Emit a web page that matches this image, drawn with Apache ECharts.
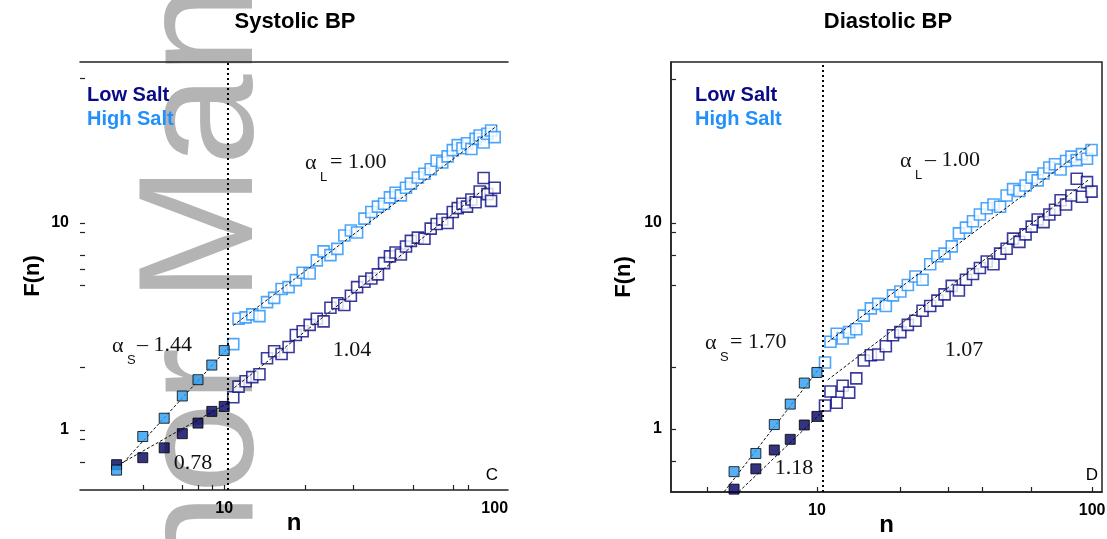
<!DOCTYPE html>
<html lang="en">
<head>
<meta charset="UTF-8">
<title>Systolic / Diastolic BP - F(n)</title>
<script src="https://cdn.jsdelivr.net/npm/echarts@6/dist/echarts.min.js"></script>
<style>
    html, body { margin: 0; padding: 0; background: #fff; }
    #chart { width: 1107px; height: 539px; }
</style>
</head>
<body>
<div id="chart"></div>
<script type="text/javascript">
    // ---- data ----
    // short range box sizes (filled squares)
    var sysShortN = [4, 5, 6, 7, 8, 9, 10];
    var sysShortLow = [0.68, 0.735, 0.82, 0.96, 1.08, 1.23, 1.30];
    var sysShortHigh = [0.64, 0.93, 1.14, 1.46, 1.75, 2.06, 2.42];

    var diaShortN = [5, 6, 7, 8, 9, 10];
    var diaShortLow = [0.51, 0.64, 0.79, 0.89, 1.045, 1.15];
    var diaShortHigh = [0.62, 0.76, 1.05, 1.32, 1.67, 1.88];

    // long range box sizes (open squares)
    var sysN = [10.8, 11.3, 12, 12.7, 13.5, 14.4, 15.3, 16.3, 17.3, 18.4, 19.5, 20.7, 22, 23.3, 24.7,
        26.2, 27.8, 29.4, 31, 33, 35, 37, 39, 41, 43, 45, 47, 49, 52, 55, 58, 61, 64, 67, 70,
        73, 76, 79, 82, 85, 88, 91, 94, 97, 100];
    var sysLow = [1.44, 1.62, 1.72, 1.80, 1.86, 2.22, 2.40, 2.33, 2.52, 2.88, 3.00, 3.22, 3.45, 3.35, 3.90,
        4.10, 4.02, 4.45, 4.90, 5.20, 5.40, 5.65, 6.40, 6.90, 7.20, 7.05, 7.70, 8.20, 8.50, 8.40, 9.40, 9.90, 10.4, 10.0, 11.3,
        11.8, 12.4, 12.0, 13.0, 12.6, 14.2, 16.5, 13.8, 12.8, 14.8];
    var sysHigh = [2.60, 3.45, 3.50, 3.62, 3.55, 4.15, 4.35, 4.80, 4.90, 5.30, 5.75, 5.70, 6.60, 7.30, 7.00,
        7.50, 8.70, 9.20, 9.00, 10.5, 11.3, 12.0, 12.4, 13.3, 14.0, 13.6, 14.8, 15.5, 16.6, 17.3, 18.2, 20.0, 19.6, 21.0, 22.5,
        23.8, 23.0, 24.3, 22.8, 25.5, 26.5, 24.5, 27.0, 28.0, 26.0];

    var diaN = [10.7, 11.2, 11.8, 12.4, 13.1, 13.9, 14.8, 15.7, 16.7, 17.8, 18.9, 20.1, 21.4, 22.8, 24.2,
        25.8, 27.4, 29.1, 30.9, 32.8, 34.8, 36.9, 39.1, 41.4, 43.8, 46.3, 48.9, 51.6, 54.4, 57.3,
        60.3, 63.4, 66.6, 69.9, 73.3, 76.8, 80.4, 84.1, 87.9, 91.8, 95.8, 99.5];
    var diaLow = [1.30, 1.52, 1.34, 1.62, 1.50, 1.76, 2.15, 2.28, 2.30, 2.52, 2.85, 2.95, 3.20, 3.35, 3.75,
        3.95, 4.20, 4.50, 4.95, 4.70, 5.30, 5.65, 6.05, 6.50, 6.30, 7.10, 7.50, 8.40, 8.10, 8.80,
        9.60, 10.4, 10.1, 11.0, 11.6, 12.9, 12.3, 13.6, 16.4, 13.4, 15.8, 14.2];
    var diaHigh = [2.10, 2.65, 2.90, 2.75, 2.95, 3.05, 3.55, 3.85, 4.05, 3.95, 4.45, 4.65, 5.00, 5.50, 5.30,
        6.30, 6.90, 7.10, 7.70, 8.90, 9.50, 10.2, 11.0, 11.8, 12.3, 12.0, 13.6, 14.6, 14.3, 15.2,
        16.6, 16.1, 17.4, 18.6, 19.3, 18.2, 20.0, 21.0, 20.2, 21.6, 20.5, 22.6];

    // fitted lines (end points)
    var sysShortLowFit = [[4, 0.67], [10.4, 1.36]];
    var sysShortHighFit = [[4, 0.64], [10.4, 2.52]];
    var sysLongLowFit = [[10.9, 1.6], [95, 15.2]];
    var sysLongHighFit = [[10.8, 3.2], [102, 29.5]];
    var diaShortLowFit = [[5.2, 0.495], [10.4, 1.2]];
    var diaShortHighFit = [[4.6, 0.495], [10.3, 2.0]];
    var diaLongLowFit = [[10.95, 1.73], [97, 16.2]];
    var diaLongHighFit = [[10.95, 2.64], [98, 23.9]];

    // crossover box size (dotted line)
    var sysCross = 10.35;
    var diaCross = 10.5;

    // ticks
    var sysXTicks = [5, 7, 8, 9, 10, 20, 30, 50, 70, 80];
    var sysYTicks = [0.7, 0.9, 1, 2, 5, 6, 7, 9, 10, 50];
    var diaXTicks = [4, 10, 20, 30, 40, 60, 100];
    var diaYTicks = [0.7, 1, 2, 5, 7, 9, 10, 50];
    var xLabels = [10, 100];
    var yLabels = [1, 10];

    var LOW = '#0a0a85';
    var LOW_FILL = '#00005e';
    var HIGH = '#2290fa';
    var HIGH_FILL = '#2a9cf2';
    var AXIS = '#222';
    var SANS = 'Liberation Sans, Arial, sans-serif';
    var SERIF = 'Liberation Serif, Times New Roman, serif';

    function pairs(xs, ys) {
        return xs.map(function (x, i) { return [x, ys[i]]; });
    }

    function openSquares(name, xs, ys, color, xi, yi) {
        return {
            name: name, type: 'scatter', xAxisIndex: xi, yAxisIndex: yi,
            data: pairs(xs, ys), symbol: 'rect', symbolSize: 11,
            itemStyle: { color: '#fff', borderColor: color, borderWidth: 1.6 },
            z: 3
        };
    }

    function filledSquares(name, xs, ys, color, xi, yi) {
        return {
            name: name, type: 'scatter', xAxisIndex: xi, yAxisIndex: yi,
            data: pairs(xs, ys), symbol: 'rect', symbolSize: 10,
            itemStyle: { color: color, borderColor: '#000', borderWidth: 1 },
            z: 6
        };
    }

    function fit(data, xi, yi) {
        return {
            type: 'line', xAxisIndex: xi, yAxisIndex: yi, data: data,
            symbol: 'none', silent: true,
            lineStyle: { color: '#111', width: 1, type: [3, 2] },
            z: 5
        };
    }

    function divider(xi, yi, at) {
        return {
            type: 'line', xAxisIndex: xi, yAxisIndex: yi, data: [],
            markLine: {
                silent: true, symbol: ['none', 'none'],
                label: { show: false },
                lineStyle: { color: '#000', width: 2, type: [2, 3] },
                data: [{ xAxis: at }]
            },
            z: 4
        };
    }

    function xAxisFor(grid, min, max, ticks) {
        return {
            gridIndex: grid, type: 'log', min: min, max: max,
            name: 'n', nameLocation: 'middle', nameGap: 21, nameMoveOverlap: false,
            nameTextStyle: { fontFamily: SANS, fontWeight: 'bold', fontSize: 24, color: '#000' },
            axisLine: { show: true, lineStyle: { color: AXIS, width: 1.5 } },
            axisTick: { show: true, inside: true, length: 5, customValues: ticks,
                lineStyle: { color: AXIS, width: 1.2 } },
            axisLabel: { customValues: xLabels, margin: 11, fontFamily: SANS, fontWeight: 'bold',
                fontSize: 16, color: '#000' },
            splitLine: { show: false },
            minorTick: { show: false }
        };
    }

    function yAxisFor(grid, min, max, ticks, line, margin) {
        return {
            gridIndex: grid, type: 'log', min: min, max: max,
            name: 'F(n)', nameLocation: 'middle', nameGap: 36,
            nameTextStyle: { fontFamily: SANS, fontWeight: 'bold', fontSize: 22, color: '#000' },
            axisLine: { show: line, lineStyle: { color: AXIS, width: 1.5 } },
            axisTick: { show: true, inside: true, length: 5, customValues: ticks,
                lineStyle: { color: AXIS, width: 1.2 } },
            axisLabel: { customValues: yLabels, margin: margin, fontFamily: SANS, fontWeight: 'bold',
                fontSize: 16, color: '#000' },
            splitLine: { show: false },
            minorTick: { show: false }
        };
    }

    // text helpers for the annotations
    function txt(x, y, s, font, size, opts) {
        opts = opts || {};
        return {
            type: 'text', x: x, y: y, z: 20,
            style: {
                text: s, fontFamily: font, fontSize: size,
                fontWeight: opts.bold ? 'bold' : 'normal',
                fill: opts.color || '#111',
                align: opts.align || 'left', verticalAlign: 'middle'
            }
        };
    }

    function alpha(x, y, sub, rest) {
        return [
            txt(x, y, 'α', SERIF, 22),
            txt(x + 15, y + 14, sub, SANS, 13),
            txt(x + 25, y - 1, rest, SERIF, 22)
        ];
    }

    var chart = echarts.init(document.getElementById('chart'));

    var graphics = [
        // faint "Author Manuscript" stamp behind the left panel
        {
            type: 'text', x: 207, y: 831, rotation: Math.PI / 2, z: -1, silent: true,
            style: { text: 'Author Manuscript', fontFamily: SANS, fontSize: 164,
                fill: '#b4b4b4', align: 'left', verticalAlign: 'middle' }
        },
        txt(295, 22, 'Systolic BP', SANS, 22, { bold: true, align: 'center', color: '#000' }),
        txt(888, 22, 'Diastolic BP', SANS, 22, { bold: true, align: 'center', color: '#000' }),
        txt(87, 95, 'Low Salt', SANS, 20, { bold: true, color: LOW }),
        txt(87, 119, 'High Salt', SANS, 20, { bold: true, color: HIGH }),
        txt(695, 95, 'Low Salt', SANS, 20, { bold: true, color: LOW }),
        txt(695, 119, 'High Salt', SANS, 20, { bold: true, color: HIGH }),
        txt(352, 350, '1.04', SERIF, 22, { align: 'center' }),
        txt(193, 463, '0.78', SERIF, 22, { align: 'center' }),
        txt(964, 350, '1.07', SERIF, 22, { align: 'center' }),
        txt(794, 468, '1.18', SERIF, 22, { align: 'center' }),
        txt(492, 475, 'C', SANS, 17, { align: 'center', color: '#000' }),
        txt(1092, 475, 'D', SANS, 17, { align: 'center', color: '#000' })
    ].concat(
        alpha(112, 346, 'S', '– 1.44'),
        alpha(305, 163, 'L', '= 1.00'),
        alpha(705, 343, 'S', '= 1.70'),
        alpha(900, 161, 'L', '– 1.00')
    );

    var option = {
        animation: false,
        backgroundColor: '#fff',
        grid: [
            { left: 80, top: 62, width: 428, height: 428, outerBoundsMode: 'none' },
            { left: 671, top: 62, width: 431, height: 430, outerBoundsMode: 'none', show: true,
                borderColor: AXIS, borderWidth: 1.5, backgroundColor: 'transparent' }
        ],
        xAxis: [
            xAxisFor(0, 2.93, 112, sysXTicks),
            {
                gridIndex: 0, type: 'log', min: 2.93, max: 112, position: 'top',
                axisLine: { show: true, lineStyle: { color: AXIS, width: 1.5 } },
                axisTick: { show: false }, axisLabel: { show: false }, splitLine: { show: false }
            },
            xAxisFor(1, 2.95, 108.6, diaXTicks)
        ],
        yAxis: [
            yAxisFor(0, 0.513, 60, sysYTicks, false, 11),
            yAxisFor(1, 0.494, 60.5, diaYTicks, true, 9)
        ],
        graphic: { elements: graphics },
        series: [
            // systolic
            openSquares('Low Salt', sysN, sysLow, LOW, 0, 0),
            openSquares('High Salt', sysN, sysHigh, HIGH, 0, 0),
            fit(sysLongLowFit, 0, 0),
            fit(sysLongHighFit, 0, 0),
            fit(sysShortLowFit, 0, 0),
            fit(sysShortHighFit, 0, 0),
            filledSquares('Low Salt', sysShortN, sysShortLow, LOW_FILL, 0, 0),
            filledSquares('High Salt', sysShortN, sysShortHigh, HIGH_FILL, 0, 0),
            divider(0, 0, sysCross),
            // diastolic
            openSquares('Low Salt', diaN, diaLow, LOW, 2, 1),
            openSquares('High Salt', diaN, diaHigh, HIGH, 2, 1),
            fit(diaLongLowFit, 2, 1),
            fit(diaLongHighFit, 2, 1),
            fit(diaShortLowFit, 2, 1),
            fit(diaShortHighFit, 2, 1),
            filledSquares('Low Salt', diaShortN, diaShortLow, LOW_FILL, 2, 1),
            filledSquares('High Salt', diaShortN, diaShortHigh, HIGH_FILL, 2, 1),
            divider(2, 1, diaCross)
        ]
    };

    chart.setOption(option);
</script>
</body>
</html>
